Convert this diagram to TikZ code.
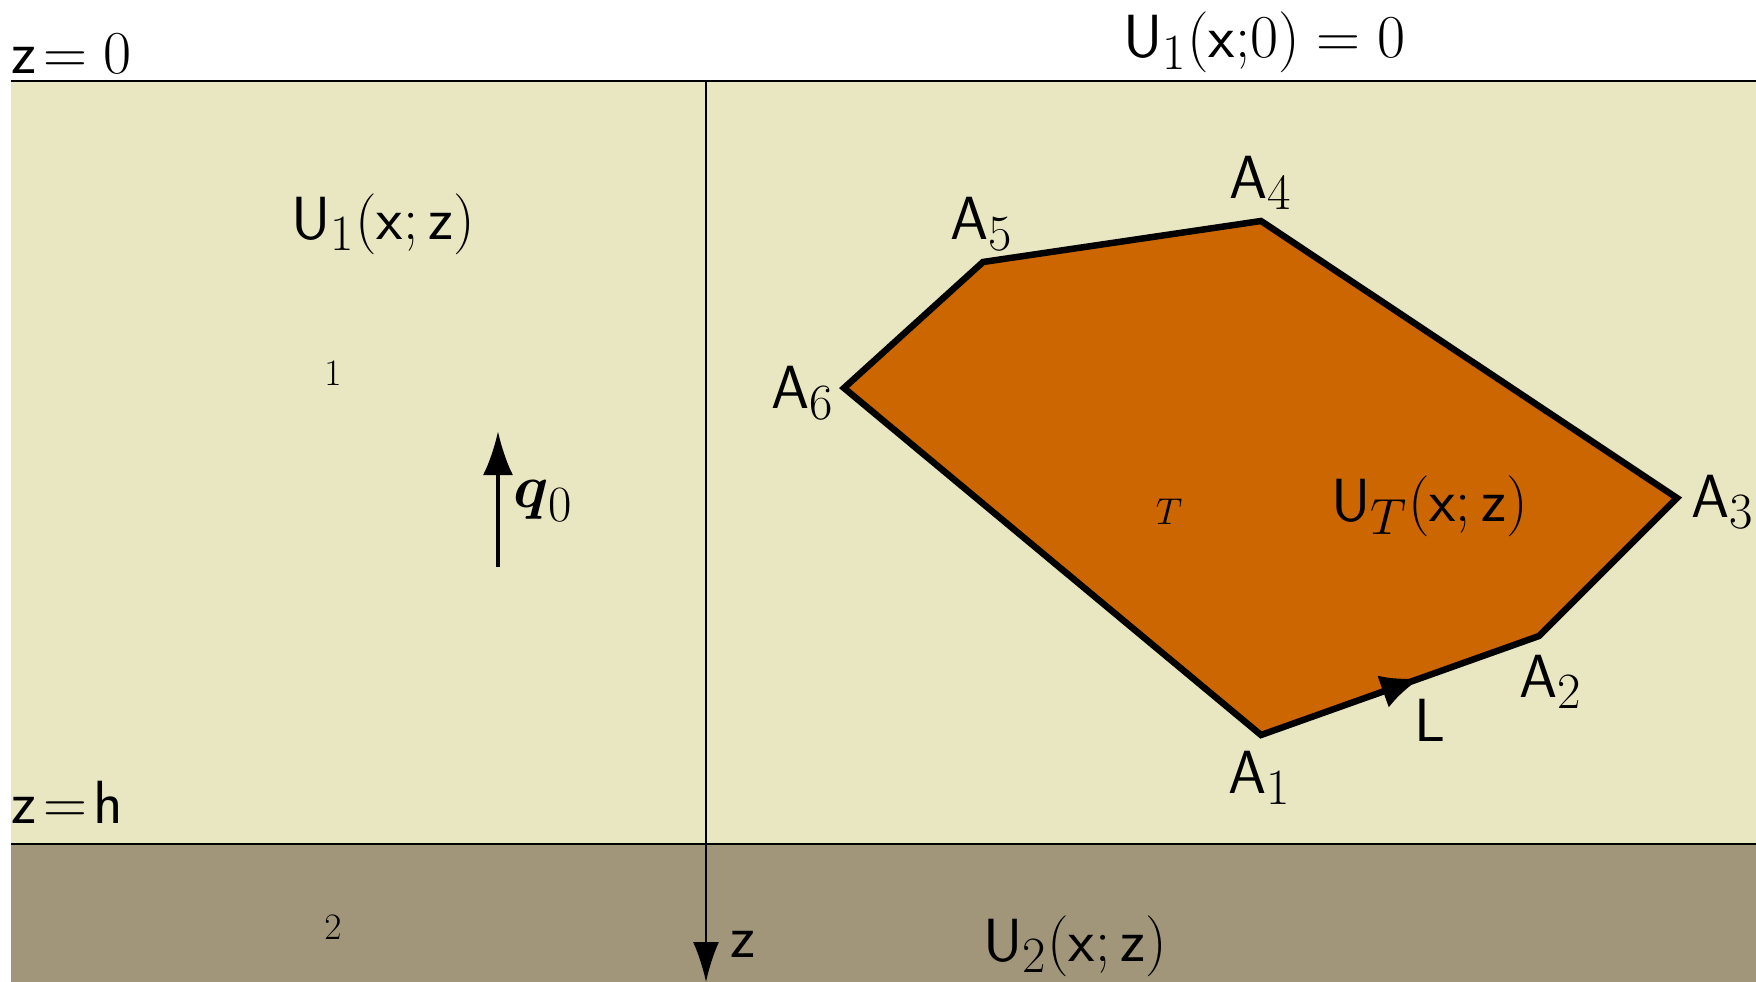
\documentclass[tikz,border=0pt]{standalone}
\usepackage{amsmath}
\usetikzlibrary{arrows.meta}
\definecolor{beige}{RGB}{233,230,194}
\definecolor{ground}{RGB}{161,150,121}
\definecolor{body}{RGB}{204,102,0}
\tikzset{
  lbl/.style={inner sep=0pt, anchor=base west, font=\Huge, scale=2.45},
  smalllbl/.style={inner sep=0pt, anchor=center, font=\Huge, scale=1.5},
  edge/.style={line width=6.5pt, line join=miter},
}
\begin{document}
\begin{tikzpicture}[x=1pt,y=-1pt]
\useasboundingbox (0,0) rectangle (1756,982);
% layers
\fill[beige] (11,82) rectangle (1756,844);
\fill[ground] (11,844) rectangle (1756,982);
\draw[line width=2.5pt] (11,81) -- (1756,81);
\draw[line width=2pt] (11,844) -- (1756,844);
% axis
\coordinate (ax0) at (706,82);
\coordinate (ax1) at (706,982);
\draw[line width=2pt, -{Latex[length=40pt,width=26pt]}] (ax0) -- (ax1);
% polygon vertices
\coordinate (A1) at (1261,735);
\coordinate (A2) at (1539,636);
\coordinate (A3) at (1677,498);
\coordinate (A4) at (1261,221);
\coordinate (A5) at (983,262);
\coordinate (A6) at (844,388);
\fill[body] (A1) -- (A2) -- (A3) -- (A4) -- (A5) -- (A6) -- cycle;
\draw[edge] (A1) -- (A2) -- (A3) -- (A4) -- (A5) -- (A6) -- cycle;
% L arrow on edge A1-A2
\path (A1) -- (A2) coordinate[pos=0.40] (Lbase) coordinate[pos=0.575] (Ltip);
\draw[line width=6pt, -{Latex[length=40pt,width=34pt]}] (Lbase) -- (Ltip);
% q0 arrow
\coordinate (q0s) at (498,567);
\coordinate (q0e) at (498,431);
\draw[line width=4pt, -{Latex[length=44pt,width=30pt]}] (q0s) -- (q0e);
% labels
\node[lbl] (zzero) at (11,74) {$\mathsf{z}\!=0$};
\node[lbl] (bc) at (1123,58) {$\mathsf{U}_1(\mathsf{x};\!0)=0$};
\node[lbl] (u1) at (291,239) {$\mathsf{U}_1(\mathsf{x};\mathsf{z})$};
\node[smalllbl] (one) at (333,373) {$1$};
\node[lbl] (q0) at (513,507) {$\boldsymbol{q}_0$};
\node[lbl] (zh) at (11,823) {$\mathsf{z}\!=\!\mathsf{h}$};
\node[smalllbl] (two) at (333,927) {$2$};
\node[lbl] (zax) at (730,957) {$\mathsf{z}$};
\node[lbl] (u2) at (983,961) {$\mathsf{U}_2(\mathsf{x};\mathsf{z})$};
\node[lbl] (lA4) at (1229,198) {$\mathsf{A}_4$};
\node[lbl] (lA5) at (950,239) {$\mathsf{A}_5$};
\node[lbl] (lA6) at (771,408) {$\mathsf{A}_6$};
\node[lbl] (lA3) at (1691,517) {$\mathsf{A}_3$};
\node[lbl] (lA2) at (1519,697) {$\mathsf{A}_2$};
\node[lbl] (lA1) at (1228,793) {$\mathsf{A}_1$};
\node[lbl] (lL) at (1414,741) {$\mathsf{L}$};
\node[smalllbl] (lT) at (1169,512) {$T$};
\node[lbl] (uT) at (1331,521) {$\mathsf{U}_T(\mathsf{x};\mathsf{z})$};
\end{tikzpicture}
\end{document}
